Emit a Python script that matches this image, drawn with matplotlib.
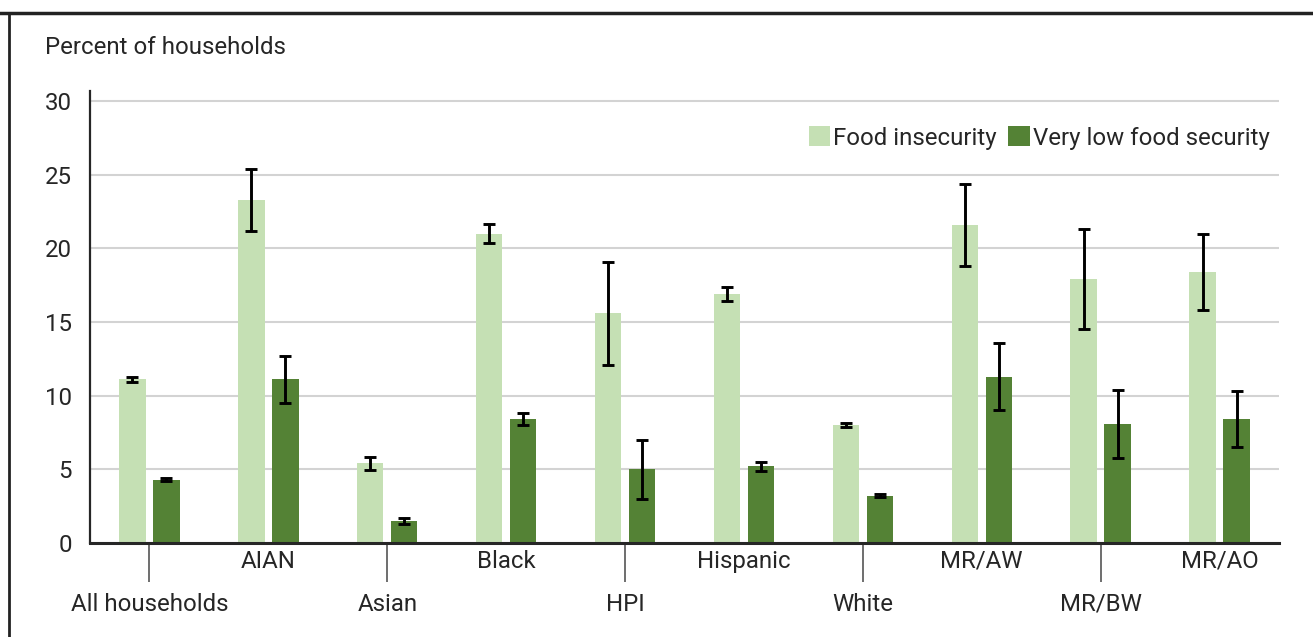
import numpy as np
import matplotlib
matplotlib.use('Agg')
import matplotlib.pyplot as plt
from matplotlib.lines import Line2D

plt.rcParams['font.family'] = ['Roboto', 'DejaVu Sans']

# data
groups = ['All households', 'AIAN', 'Asian', 'Black', 'HPI',
          'Hispanic', 'White', 'MR/AW', 'MR/BW', 'MR/AO']
food_insecurity = [11.1, 23.3, 5.4, 21.0, 15.6, 16.9, 8.0, 21.6, 17.9, 18.4]
fi_err = [0.2, 2.1, 0.45, 0.65, 3.5, 0.5, 0.15, 2.8, 3.4, 2.6]
very_low = [4.3, 11.1, 1.5, 8.4, 5.0, 5.2, 3.2, 11.3, 8.1, 8.4]
vl_err = [0.1, 1.6, 0.2, 0.42, 2.0, 0.3, 0.1, 2.3, 2.3, 1.9]

light = '#c5e0b4'
dark = '#548235'
txt = '#262626'
fs = 17.3

fig = plt.figure(figsize=(13.13, 6.37), dpi=100)
ax = fig.add_axes([90/1313, 1-543/637, (1279-90)/1313, (543-91)/637])

x = np.arange(len(groups))
w, off = 0.222, 0.143
ekw = dict(ecolor='black', elinewidth=2.1, capsize=4, capthick=2.1)
ax.bar(x-off, food_insecurity, w, color=light, yerr=fi_err,
       error_kw=ekw, label='Food insecurity', zorder=2)
ax.bar(x+off, very_low, w, color=dark, yerr=vl_err,
       error_kw=ekw, label='Very low food security', zorder=2)

ax.set_xlim(-0.5, len(groups)-0.5)
ax.set_ylim(0, 30.68)
ax.set_yticks(np.arange(0, 31, 5))
ax.yaxis.grid(True, color='#d3d3d3', lw=1.5, zorder=0)
ax.set_axisbelow(True)
ax.tick_params(axis='y', length=0, pad=13, labelsize=fs, labelcolor=txt)

# two rows of category labels, long ticks under the lower row
ax.set_xticks(x[::2])
ax.set_xticklabels(groups[::2])
ax.set_xticks(x[1::2], minor=True)
ax.set_xticklabels(groups[1::2], minor=True)
ax.tick_params(axis='x', which='major', length=28, width=1.2, color='#555555',
               pad=8, labelsize=fs, labelcolor=txt)
ax.tick_params(axis='x', which='minor', length=0, pad=5,
               labelsize=fs, labelcolor=txt)

for s in ['top', 'right']:
    ax.spines[s].set_visible(False)
ax.spines['left'].set_linewidth(1.6)
ax.spines['left'].set_color(txt)
ax.spines['bottom'].set_linewidth(2.2)
ax.spines['bottom'].set_color(txt)

fig.text(45/1313, 1-47/637, 'Percent of households', fontsize=fs,
         color=txt, va='center', ha='left')

ax.legend(loc='center right', bbox_to_anchor=(1.0, 0.896), ncol=2,
          frameon=False, fontsize=fs, handlelength=0.9, handleheight=0.9,
          handletextpad=0.1, columnspacing=0.5, borderaxespad=0,
          labelcolor=txt)

# frame around the panel
fig.add_artist(Line2D([0, 1], [1-13/637]*2, color='#222222', lw=2.5))
fig.add_artist(Line2D([9/1313]*2, [0, 1-13/637], color='#222222', lw=2))

fig.savefig('out.png', dpi=100)
